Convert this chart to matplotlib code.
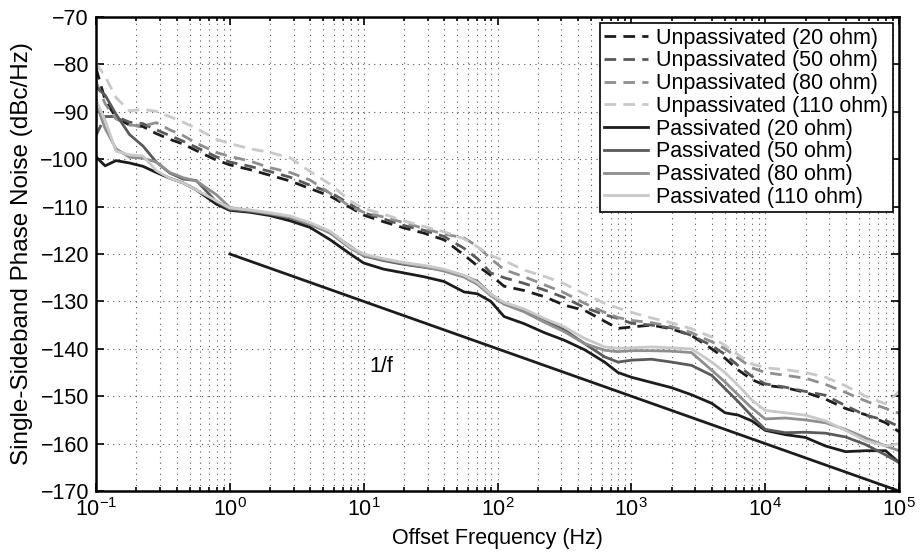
import numpy as np
import matplotlib
matplotlib.use("Agg")
import matplotlib.pyplot as plt
from matplotlib.ticker import LogLocator, NullFormatter, MultipleLocator, FixedLocator

plt.rcParams['font.family'] = ['Liberation Sans', 'DejaVu Sans']
plt.rcParams['mathtext.fontset'] = 'custom'
plt.rcParams['mathtext.rm'] = 'Liberation Sans'
plt.rcParams['mathtext.it'] = 'Liberation Sans:italic'
plt.rcParams['mathtext.bf'] = 'Liberation Sans:bold'

# offset frequency grid (Hz)
freq = [0.1, 0.117, 0.141, 0.178, 0.224, 0.282, 0.355, 0.447, 0.562, 0.794,
        1.0, 1.41, 2.0, 2.82, 3.98, 5.62, 7.94, 10.0, 14.1, 20.0,
        28.2, 39.8, 56.2, 70.8, 89.1, 112, 158, 224, 316, 447,
        631, 794, 1000, 1413, 1995, 2818, 3981, 5012, 6310, 7943,
        10000, 14125, 19953, 28184, 39811, 56234, 79433, 100000]

# unpassivated devices (dBc/Hz)
unpass_20 = [-80.8, -87.5, -91.2, -92.8, -93.1, -94.6, -95.8, -96.8, -98.2, -100.2,
             -101.2, -102.2, -103.4, -104.6, -106.2, -107.8, -110.2, -111.8, -113.2, -114.5,
             -115.6, -117.0, -120.2, -122.5, -124.5, -126.8, -127.7, -129.0, -130.8, -131.9,
             -134.2, -135.7, -135.4, -135.0, -135.8, -137.2, -140.0, -142.0, -144.5, -146.5,
             -147.7, -148.2, -149.2, -150.6, -152.6, -153.9, -155.6, -157.5]
unpass_50 = [-95.0, -91.0, -91.0, -92.2, -92.5, -93.8, -95.0, -96.2, -97.5, -99.5,
             -100.6, -101.5, -102.6, -103.8, -105.5, -107.0, -109.5, -111.3, -112.6, -114.0,
             -115.0, -116.3, -118.8, -121.0, -124.0, -125.0, -126.2, -127.6, -129.2, -131.3,
             -132.8, -133.6, -134.6, -135.0, -135.6, -137.2, -139.3, -141.2, -143.6, -145.8,
             -147.4, -148.1, -149.0, -149.8, -152.0, -154.0, -155.1, -156.4]
unpass_80 = [-83.6, -88.3, -91.5, -92.8, -93.0, -92.3, -93.8, -95.0, -96.6, -98.6,
             -99.4, -100.4, -101.8, -102.8, -104.4, -107.2, -110.0, -111.2, -112.2, -113.4,
             -114.6, -115.8, -116.6, -118.4, -121.0, -123.3, -124.8, -126.5, -128.2, -130.4,
             -132.3, -133.4, -134.0, -134.5, -135.3, -136.6, -138.5, -140.0, -142.0, -144.0,
             -145.0, -145.6, -146.2, -147.5, -149.2, -151.0, -152.6, -153.6]
unpass_110 = [-79.8, -82.5, -87.0, -89.8, -89.5, -89.9, -91.0, -92.2, -93.5, -95.8,
              -96.7, -97.8, -98.6, -99.7, -102.6, -105.3, -108.8, -110.4, -111.6, -113.0,
              -114.2, -115.3, -116.8, -118.5, -120.3, -121.4, -123.4, -124.7, -126.3, -128.4,
              -130.4, -131.4, -132.3, -133.5, -134.5, -135.8, -137.5, -139.3, -141.3, -143.2,
              -144.0, -144.4, -145.0, -146.0, -147.8, -150.0, -151.6, -149.0]

# passivated devices (dBc/Hz)
pass_20 = [-99.5, -101.4, -100.3, -100.8, -101.5, -102.8, -104.0, -105.0, -106.5, -109.5,
           -110.8, -111.2, -111.9, -113.0, -114.4, -117.0, -120.0, -121.9, -123.2, -124.0,
           -124.8, -125.8, -128.0, -128.4, -130.0, -133.2, -134.7, -136.6, -138.2, -140.2,
           -142.8, -145.0, -146.0, -147.1, -148.2, -149.7, -151.5, -153.5, -154.0, -155.2,
           -157.2, -158.1, -158.7, -160.5, -161.7, -161.5, -161.5, -164.0]
pass_50 = [-84.7, -86.5, -90.5, -94.8, -97.2, -100.6, -102.9, -104.2, -104.5, -109.0,
           -110.6, -111.0, -111.6, -112.4, -113.8, -115.4, -118.4, -120.4, -121.4, -122.2,
           -122.8, -123.4, -124.6, -125.8, -128.5, -130.4, -131.8, -133.8, -136.0, -138.9,
           -141.7, -142.8, -142.4, -142.2, -142.8, -143.5, -145.6, -148.4, -151.2, -154.2,
           -157.0, -157.7, -157.6, -157.8, -158.6, -160.2, -162.4, -164.0]
pass_80 = [-88.2, -93.5, -97.8, -99.6, -99.8, -100.6, -102.8, -103.9, -104.6, -107.5,
           -110.2, -110.8, -111.5, -112.2, -113.7, -115.6, -118.8, -120.3, -121.2, -122.0,
           -122.7, -123.6, -124.9, -126.4, -128.8, -130.6, -132.2, -134.4, -136.4, -138.9,
           -140.3, -140.6, -140.4, -140.4, -140.5, -140.8, -144.5, -147.0, -149.8, -152.5,
           -154.8, -154.6, -155.0, -155.6, -157.0, -158.8, -160.5, -161.5]
pass_110 = [-87.5, -91.8, -98.3, -99.1, -99.3, -102.4, -104.0, -105.0, -106.5, -108.8,
            -110.3, -110.7, -111.3, -112.0, -113.4, -115.2, -118.5, -120.0, -121.0, -121.8,
            -122.4, -123.2, -124.5, -126.0, -128.5, -130.2, -131.6, -133.6, -135.4, -137.8,
            -139.6, -139.9, -139.8, -139.6, -139.8, -140.0, -142.8, -145.0, -147.8, -150.8,
            -153.0, -153.5, -154.0, -155.2, -157.2, -159.4, -160.5, -160.0]

# 1/f reference line
ref_f = [1.0, 1e5]
ref_db = [-120.0, -170.0]

xticks = [0.1, 1, 10, 100, 1000, 10000, 100000]

shades = ['#1c1c1c', '#5a5a5a', '#8f8f8f', '#c9c9c9']
unpass = [unpass_20, unpass_50, unpass_80, unpass_110]
passv = [pass_20, pass_50, pass_80, pass_110]
ohms = ['20', '50', '80', '110']

fs = 15.5

fig = plt.figure(figsize=(9.24, 5.53), dpi=100)
ax = fig.add_axes([0.1039, 0.1121, 0.8691, 0.8572])

for vals, c, r in zip(unpass, shades, ohms):
    ax.semilogx(freq, vals, color=c, lw=2.0, ls=(0, (4.2, 2.6)),
                label='Unpassivated (%s ohm)' % r)
for vals, c, r in zip(passv, shades, ohms):
    ax.semilogx(freq, vals, color=c, lw=2.0, label='Passivated (%s ohm)' % r)

ax.semilogx(ref_f, ref_db, color='#1c1c1c', lw=2.0)
ax.text(13.5, -143.8, '1/f', fontsize=fs, ha='center', va='center')

ax.set_xlim(0.1, 1e5)
ax.set_ylim(-170, -70)
ax.yaxis.set_major_locator(MultipleLocator(10))
ax.xaxis.set_major_locator(FixedLocator(xticks))
ax.xaxis.set_minor_locator(LogLocator(base=10, subs=np.arange(2, 10), numticks=20))
ax.xaxis.set_minor_formatter(NullFormatter())
ax.grid(True, which='major', ls=(0, (1, 4)), color='#555555', lw=0.8)
ax.grid(True, which='minor', axis='x', ls=(0, (1, 4)), color='#555555', lw=0.8)
ax.tick_params(which='both', direction='in', top=True, right=True, labelsize=fs, width=1.2)
ax.tick_params(which='major', length=6, pad=5)
ax.tick_params(which='minor', length=3)
for s in ax.spines.values():
    s.set_linewidth(1.8)

ax.set_xlabel('Offset Frequency (Hz)', fontsize=fs, labelpad=5)
ax.set_ylabel('Single-Sideband Phase Noise (dBc/Hz)', fontsize=17.5, labelpad=5)

leg = ax.legend(loc='upper right', fontsize=fs, frameon=True, fancybox=False,
                handlelength=2.0, handletextpad=0.4, labelspacing=0.08,
                borderpad=0.2, borderaxespad=0.3)
leg.get_frame().set_edgecolor('black')
leg.get_frame().set_linewidth(1.2)
leg.get_frame().set_alpha(1.0)

fig.savefig('out.png', dpi=100)
